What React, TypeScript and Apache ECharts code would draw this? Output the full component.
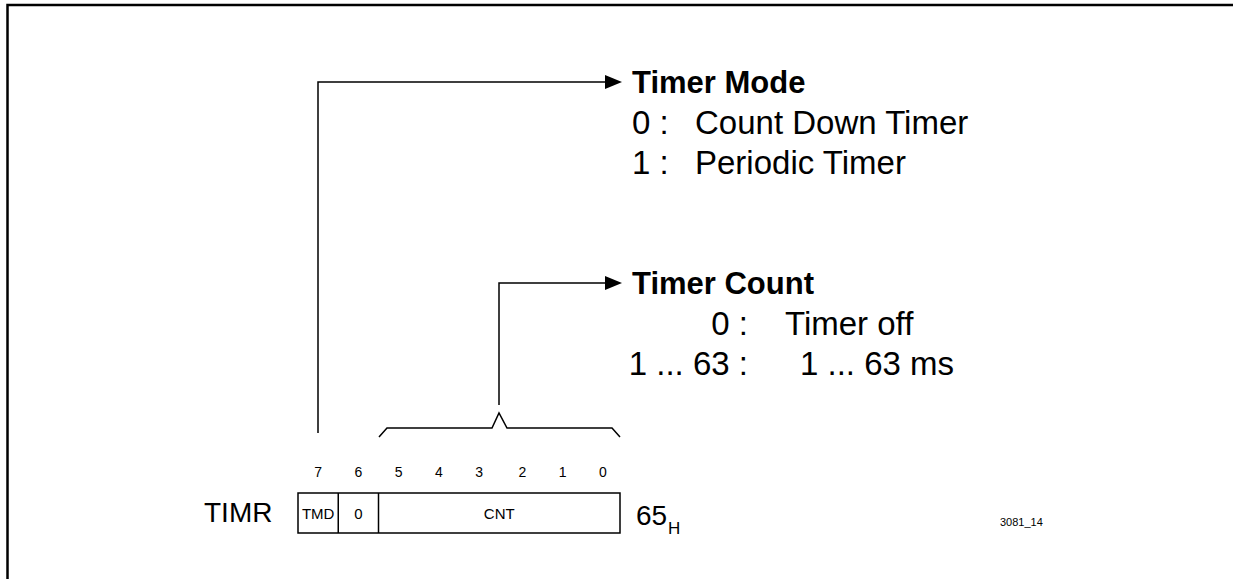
import React, { useEffect, useRef } from "react";
import * as echarts from "echarts";

// ---- Data ----
const registerName = "TIMR";
const registerAddress = "65";
const addressSuffix = "H";
const bitNumbers = ["7", "6", "5", "4", "3", "2", "1", "0"];
const fieldNames = ["TMD", "0", "CNT"];
const fieldBitWidths = [1, 1, 6];
const modeTitle = "Timer Mode";
const modeKeys = ["0 :", "1 :"];
const modeValues = ["Count Down Timer", "Periodic Timer"];
const countTitle = "Timer Count";
const countKeys = ["0 :", "1 ... 63 :"];
const countValues = ["Timer off", "1 ... 63 ms"];
const figureId = "3081_14";

const FONT = "'Liberation Sans', Arial, Helvetica, sans-serif";

export default function App() {
  const ref = useRef<HTMLDivElement>(null);
  useEffect(() => {
    if (!ref.current) return;
    const chart = echarts.init(ref.current, null, { renderer: "svg" });

    const boxL = 298, boxR = 620, boxT = 493, boxB = 533;
    const bitW = (boxR - boxL) / bitNumbers.length;
    const els: any[] = [];
    const txt = (text: string, x: number, y: number, size: number, opts: any = {}) => ({
      type: "text",
      x,
      y,
      style: {
        text,
        fill: "#000",
        font: `${opts.bold ? "bold " : ""}${size}px ${FONT}`,
        align: opts.align || "left",
        textAlign: opts.align || "left",
        verticalAlign: "middle",
        textVerticalAlign: "middle",
      },
    });
    const line = (pts: number[][], w = 1.5) => ({
      type: "polyline",
      shape: { points: pts },
      style: { stroke: "#000", lineWidth: w, fill: null },
    });
    const arrow = (x: number, y: number) => ({
      type: "polygon",
      shape: { points: [[x - 17, y - 7], [x, y], [x - 17, y + 7]] },
      style: { fill: "#000" },
    });

    // frame (top and left)
    els.push(line([[7.5, 579], [7.5, 5], [1233, 5]], 2.5));

    // register box
    els.push({
      type: "rect",
      shape: { x: boxL, y: boxT, width: boxR - boxL, height: boxB - boxT },
      style: { fill: "#fff", stroke: "#000", lineWidth: 1.5 },
    });
    let bitPos = 0;
    fieldNames.forEach((name, i) => {
      const x0 = boxL + bitPos * bitW;
      const x1 = x0 + fieldBitWidths[i] * bitW;
      if (i > 0) els.push(line([[x0, boxT], [x0, boxB]]));
      els.push(txt(name, (x0 + x1) / 2, (boxT + boxB) / 2, 15, { align: "center" }));
      bitPos += fieldBitWidths[i];
    });
    bitNumbers.forEach((b, i) => {
      els.push(txt(b, boxL + (i + 0.5) * bitW + (i > 4 ? 3 : 0), 472, 14, { align: "center" }));
    });

    els.push(txt(registerName, 204, 512, 28));
    els.push(txt(registerAddress, 636, 515, 28));
    els.push(txt(addressSuffix, 668, 528, 17));
    els.push(txt(figureId, 1000, 522, 11));

    // Timer Mode connector
    const modeY = 82;
    els.push(line([[318, 433], [318, modeY], [607, modeY]]));
    els.push(arrow(622, modeY));
    els.push(txt(modeTitle, 632, modeY, 31, { bold: true }));
    modeKeys.forEach((k, i) => {
      const y = modeY + 40 * (i + 1);
      els.push(txt(k, 632, y, 33));
      els.push(txt(modeValues[i], 695, y, 33));
    });

    // brace
    els.push(
      line([
        [379, 437], [387, 428], [492, 428], [499, 413], [507, 428], [612, 428], [620, 437],
      ])
    );

    // Timer Count connector
    const countY = 283;
    els.push(line([[499, 405], [499, countY], [607, countY]]));
    els.push(arrow(622, countY));
    els.push(txt(countTitle, 632, countY, 31, { bold: true }));
    const colonX = 748;
    countKeys.forEach((k, i) => {
      const y = countY + 40 * (i + 1);
      els.push(txt(k, colonX, y, 33, { align: "right" }));
      els.push(txt(countValues[i], i === 0 ? 785 : 800, y, 33));
    });

    chart.setOption({
      animation: false,
      backgroundColor: "#fff",
      graphic: { elements: els },
    });
    return () => chart.dispose();
  }, []);
  return (
    <div
      ref={ref}
      style={{ position: "fixed", left: 0, top: 0, width: 1233, height: 579 }}
    />
  );
}
